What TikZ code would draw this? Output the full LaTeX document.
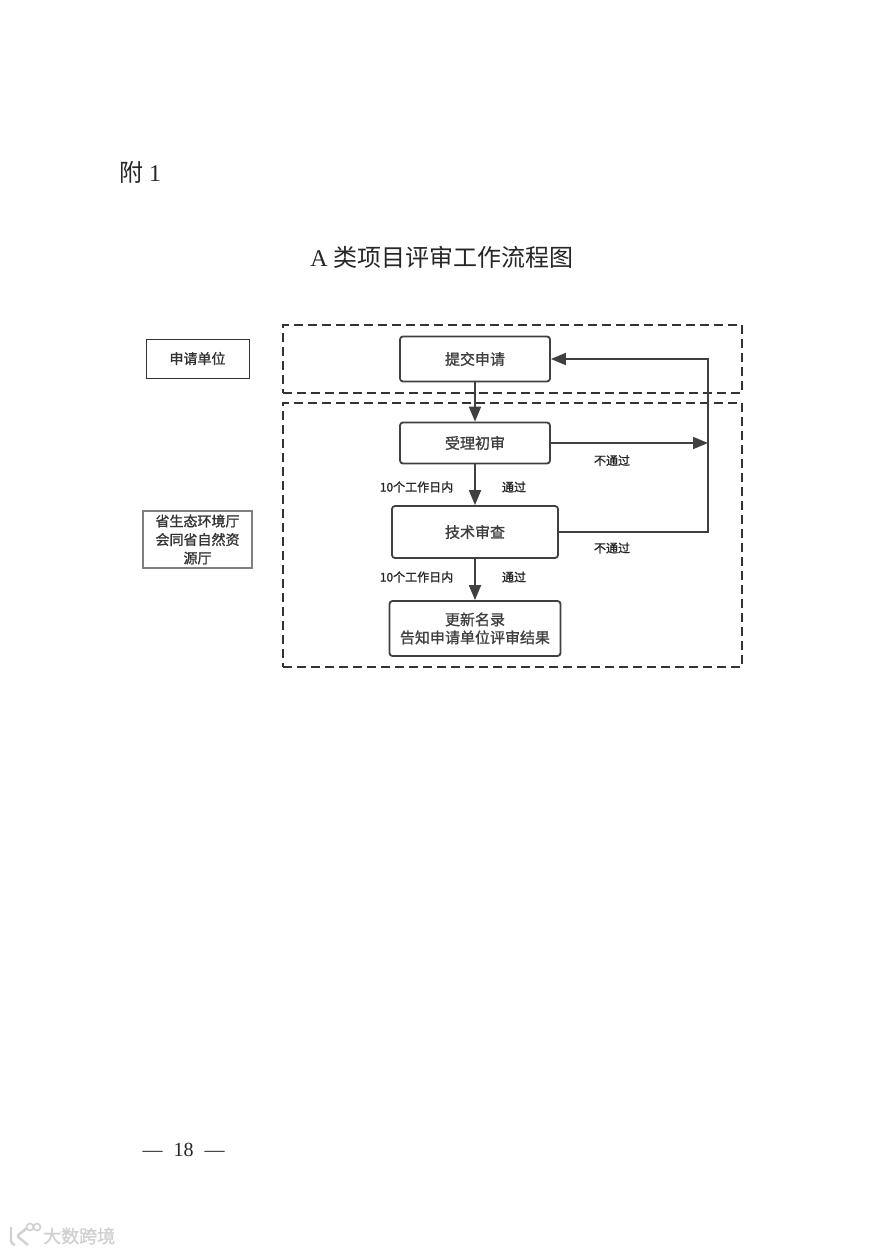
\documentclass[tikz,border=0pt]{standalone}
\usepackage{fontspec}
\usepackage{xcolor}
\usepackage{tikz}
\usetikzlibrary{arrows.meta}
\setmainfont{Liberation Serif}
\newfontfamily\cjkfont{Noto Sans CJK SC}
\newfontfamily\cjkbold[FakeBold=1.2]{Noto Sans CJK SC}
\definecolor{flowgray}{HTML}{404040}
\definecolor{framegray}{HTML}{333333}
\definecolor{sidegray}{HTML}{808080}
\definecolor{markgray}{HTML}{D0D0D0}
\begin{document}
\begin{tikzpicture}[
  x=1pt,y=-1pt,
  stepbox/.style={draw=flowgray,line width=1.8pt,rounded corners=3pt,
    fill=white,align=center,inner sep=0pt,text=flowgray,
    font=\fontsize{15}{18}\selectfont\cjkbold},
  sidebox/.style={draw=black!80,line width=0.9pt,align=center,inner sep=0pt,
    text=black!80,font=\fontsize{14}{18.5}\selectfont\cjkbold},
  zone/.style={draw=framegray,line width=1.8pt,dash pattern=on 9pt off 5pt,
    inner sep=0pt},
  flow/.style={-{Triangle[length=15pt,width=12pt]},line width=1.8pt,draw=flowgray},
  flowline/.style={line width=1.8pt,draw=flowgray},
  note/.style={font=\fontsize{12}{14}\selectfont\cjkbold,text=black!85},
  headline/.style={font=\fontsize{24}{28}\selectfont,text=black!85,inner sep=0pt},
  watermark/.style={font=\fontsize{18}{20}\selectfont\cjkbold,text=markgray,inner sep=0pt}
]
\useasboundingbox[fill=white] (0,0) rectangle (885,1252);

% page texts
\node[headline,anchor=west] (annex) at (119,172) {{\cjkfont 附} 1};
\node[headline] (title) at (442,257) {A {\cjkfont 类项目评审工作流程图}};
\node[font=\fontsize{20}{24}\selectfont,text=black!85] (pageno) at (183.5,1150)
  {—\hspace{6pt} 18 \hspace{6pt}—};

% dashed zones
\node[zone,minimum width=459pt,minimum height=68pt] (applyzone) at (512.5,359) {};
\node[zone,minimum width=459pt,minimum height=264pt] (reviewzone) at (512.5,535) {};

% left column
\node[sidebox,minimum width=103pt,minimum height=39pt] (applicant) at (197.5,358.5) {申请单位};
\node[sidebox,draw=sidegray,line width=1.2pt,minimum width=109pt,minimum height=57pt]
  (bureau) at (197.5,539.5) {省生态环境厅\\会同省自然资\\源厅};

% main steps
\node[stepbox,minimum width=150pt,minimum height=45pt] (submit) at (475,359) {提交申请};
\node[stepbox,minimum width=150pt,minimum height=41pt] (accept) at (475,443) {受理初审};
\node[stepbox,minimum width=166pt,minimum height=52pt] (techreview) at (475,532) {技术审查};
\node[stepbox,minimum width=171pt,minimum height=55pt] (update) at (475,628.5) {更新名录\\告知申请单位评审结果};

% return line
\coordinate (backlow) at (708,532);
\coordinate (backmid) at (708,443);
\coordinate (backtop) at (708,359);

\draw[flow] (submit) -- (accept);
\draw[flow] (accept) -- (techreview);
\draw[flow] (techreview) -- (update);
\draw[flow] (accept) -- (backmid);
\draw[flowline] (techreview) -- (backlow) -- (backmid);
\draw[flow] (backmid) -- (backtop) -- (submit);

% labels
\node[note] (days1) at (416.5,487) {10个工作日内};
\node[note] (days2) at (416.5,577) {10个工作日内};
\node[note] (pass1) at (514,487) {通过};
\node[note] (pass2) at (514,577) {通过};
\node[note] (fail1) at (612,460.5) {不通过};
\node[note] (fail2) at (612,548) {不通过};

% mark in the corner
\draw[markgray,line width=2.4pt,rounded corners=2pt] (11,1227) -- (11,1243) -- (15,1245)
  (27,1228) -- (17,1236) -- (28,1245);
\draw[markgray,line width=1.6pt] (30,1227) circle (3.5) (37,1227) circle (3.5);
\node[watermark,anchor=west] (marktext) at (43,1236) {大数跨境};
\end{tikzpicture}
\end{document}
